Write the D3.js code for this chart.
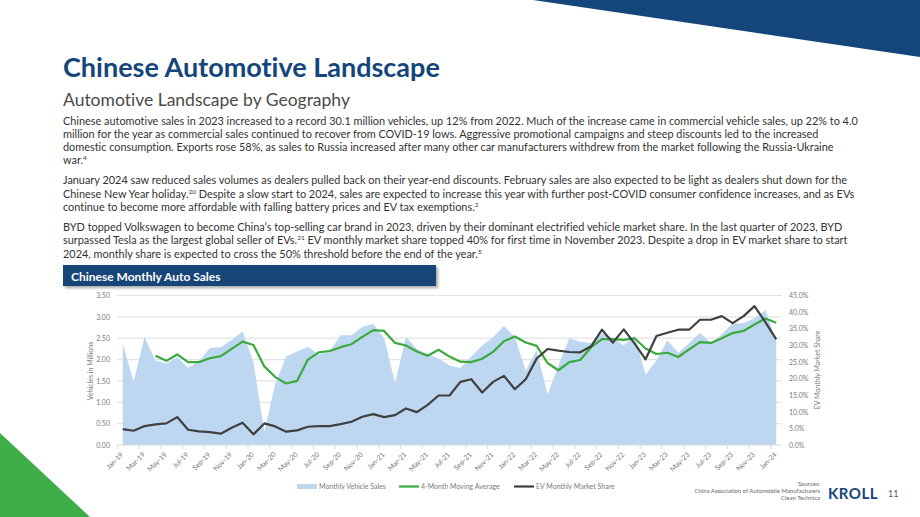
<!DOCTYPE html>
<html>
<head>
<script src="https://cdn.jsdelivr.net/npm/d3@7"></script>
<meta charset="utf-8">
<style>
body {
  margin: 0;
  font-family: Lato, "Noto Sans", sans-serif;
}
svg {
  display: block;
  background: white;
  font-variant-ligatures: none;
}
</style>
</head>
<body>
<div class="chart"></div>

<script>

// monthly sales in millions, Jan-19 .. Jan-24
var sales = [2.37, 1.48, 2.52, 1.98, 1.91, 2.06, 1.81, 1.96, 2.27, 2.29, 2.46, 2.66,
  1.94, 0.31, 1.43, 2.07, 2.19, 2.30, 2.11, 2.19, 2.57, 2.57, 2.77, 2.83,
  2.50, 1.46, 2.53, 2.25, 2.13, 2.02, 1.86, 1.80, 2.07, 2.33, 2.52, 2.79,
  2.53, 1.74, 2.23, 1.18, 1.86, 2.50, 2.42, 2.39, 2.61, 2.51, 2.33, 2.56,
  1.65, 1.98, 2.45, 2.16, 2.38, 2.63, 2.39, 2.59, 2.85, 2.85, 2.97, 3.16,
  2.44];

// 4-month moving average (starts Apr-19)
var movingAvg = [null, null, null, 2.09, 1.97, 2.12, 1.94, 1.94, 2.03, 2.08, 2.25, 2.42,
  2.34, 1.84, 1.59, 1.44, 1.50, 2.00, 2.17, 2.20, 2.29, 2.36, 2.53, 2.69,
  2.67, 2.39, 2.33, 2.19, 2.09, 2.23, 2.07, 1.95, 1.94, 2.02, 2.18, 2.43,
  2.54, 2.40, 2.32, 1.92, 1.75, 1.94, 1.99, 2.29, 2.48, 2.48, 2.46, 2.50,
  2.26, 2.13, 2.16, 2.06, 2.24, 2.41, 2.39, 2.50, 2.62, 2.67, 2.82, 2.96,
  2.86];

// EV monthly market share (%)
var evShare = [4.8, 4.3, 5.7, 6.2, 6.5, 8.4, 4.6, 4.1, 3.9, 3.4, 5.2, 6.7,
  3.2, 6.5, 5.6, 4.0, 4.4, 5.5, 5.7, 5.7, 6.3, 7.0, 8.5, 9.3,
  8.4, 9.0, 11.0, 9.9, 12.1, 14.9, 14.9, 19.0, 19.8, 15.8, 19.0, 20.8,
  16.8, 19.8, 26.0, 28.9, 28.4, 28.0, 27.9, 29.7, 34.7, 30.8, 34.8, 30.5,
  25.8, 32.8, 33.8, 34.7, 34.7, 37.7, 37.7, 38.8, 36.7, 38.8, 41.8, 37.0,
  31.8];

var months = d3.timeMonth.range(new Date(2019, 0, 1), new Date(2024, 1, 1))
  .map(d3.timeFormat("%b-%y"));

var leftTicks = [0, 0.5, 1, 1.5, 2, 2.5, 3, 3.5];
var rightTicks = [0, 5, 10, 15, 20, 25, 30, 35, 40, 45];

var seriesNames = ["Monthly Vehicle Sales", "4-Month Moving Average", "EV Monthly Market Share"];

var paragraphs = [
  ["Chinese automotive sales in 2023 increased to a record 30.1 million vehicles, up 12% from 2022. Much of the increase came in commercial vehicle sales, up 22% to 4.0",
   "million for the year as commercial sales continued to recover from COVID-19 lows. Aggressive promotional campaigns and steep discounts led to the increased",
   "domestic consumption. Exports rose 58%, as sales to Russia increased after many other car manufacturers withdrew from the market following the Russia-Ukraine",
   "war.^4"],
  ["January 2024 saw reduced sales volumes as dealers pulled back on their year-end discounts. February sales are also expected to be light as dealers shut down for the",
   "Chinese New Year holiday.^20 Despite a slow start to 2024, sales are expected to increase this year with further post-COVID consumer confidence increases, and as EVs",
   "continue to become more affordable with falling battery prices and EV tax exemptions.^2"],
  ["BYD topped Volkswagen to become China\u2019s top-selling car brand in 2023, driven by their dominant electrified vehicle market share. In the last quarter of 2023, BYD",
   "surpassed Tesla as the largest global seller of EVs.^21 EV monthly market share topped 40% for first time in November 2023. Despite a drop in EV market share to start",
   "2024, monthly share is expected to cross the 50% threshold before the end of the year.^5"]
];

var sources = ["Sources:", "China Association of Automobile Manufacturers", "Clean Technica"];

var navy = "#14467c",
    areaColor = "#bdd7f1",
    green = "#3aaa3c",
    dark = "#404040",
    grey = "#7a7a7a";

var width = 920,
    height = 517;

var svg = d3.select(".chart")
  .append("svg")
  .attr("width", width)
  .attr("height", height);

// decorative corners
svg.append("path")
  .attr("d", "M533,0 L920,0 L920,57 Z")
  .attr("fill", navy);
svg.append("path")
  .attr("d", "M0,433 L0,517 L90,517 Z")
  .attr("fill", "#3fae49");

// titles
svg.append("text")
  .attr("x", 63).attr("y", 77)
  .attr("fill", navy)
  .style("font-size", "27px")
  .style("font-weight", "bold")
  .text("Chinese Automotive Landscape");

svg.append("text")
  .attr("x", 63).attr("y", 106)
  .attr("fill", "#4a4a4a")
  .style("font-size", "17.5px")
  .text("Automotive Landscape by Geography");

// body text, ^n marks a footnote number
var lineY = 124.5;
paragraphs.forEach(function(p) {
  p.forEach(function(line) {
    var t = svg.append("text")
      .attr("x", 63).attr("y", lineY)
      .attr("fill", "#333")
      .style("font-size", "10.9px");
    var parts = line.split(/\^(\d+)/);
    var shift = 0;
    parts.forEach(function(s, i) {
      if (i % 2 == 0) {
        if (s == "") return;
        t.append("tspan").attr("dy", -shift).text(s);
        shift = 0;
      } else {
        t.append("tspan")
          .attr("dy", -4)
          .style("font-size", "6.5px")
          .text(s);
        shift = -4;
      }
    });
    lineY += 13.3;
  });
  lineY += 6.7;
});

// chart header bar
var defs = svg.append("defs");
var f = defs.append("filter").attr("id", "shadow")
  .attr("x", "-5%").attr("y", "-30%").attr("width", "115%").attr("height", "180%");
f.append("feDropShadow")
  .attr("dx", 2).attr("dy", 2).attr("stdDeviation", 1.5)
  .attr("flood-color", "#000").attr("flood-opacity", 0.35);

svg.append("rect")
  .attr("x", 63).attr("y", 265)
  .attr("width", 373).attr("height", 21)
  .attr("fill", "#164577")
  .attr("filter", "url(#shadow)");
svg.append("text")
  .attr("x", 71).attr("y", 280.5)
  .attr("fill", "white")
  .style("font-size", "12px")
  .style("font-weight", "bold")
  .text("Chinese Monthly Auto Sales");

// scales
var x = d3.scaleBand()
  .domain(months)
  .range([117.3, 781.7]);
var cx = function(i) { return x(months[i]) + x.bandwidth() / 2; };

var yL = d3.scaleLinear().domain([0, 3.5]).range([445, 295.5]);
var yR = d3.scaleLinear().domain([0, 45]).range([445, 295.5]);

// gridlines
svg.append("g").selectAll("line")
  .data(leftTicks.slice(1))
  .enter().append("line")
  .attr("x1", 117.3).attr("x2", 781.7)
  .attr("y1", function(d) { return yL(d); })
  .attr("y2", function(d) { return yL(d); })
  .attr("stroke", "#e3e3e3")
  .attr("stroke-width", 1.2);

// area
var area = d3.area()
  .x(function(d, i) { return cx(i); })
  .y0(yL(0))
  .y1(function(d) { return yL(d); });

svg.append("path")
  .datum(sales)
  .attr("d", area)
  .attr("fill", areaColor);

// baseline + ticks
svg.append("line")
  .attr("x1", 117.3).attr("x2", 781.7)
  .attr("y1", 445).attr("y2", 445)
  .attr("stroke", "#d9d9d9")
  .attr("stroke-width", 1.2);

var evenMonths = months.filter(function(d, i) { return i % 2 == 0; });

svg.append("g").selectAll("line")
  .data(evenMonths)
  .enter().append("line")
  .attr("x1", function(d) { return x(d); })
  .attr("x2", function(d) { return x(d); })
  .attr("y1", 445).attr("y2", 449)
  .attr("stroke", "#d9d9d9");

// lines
var avgLine = d3.line()
  .defined(function(d) { return d != null; })
  .x(function(d, i) { return cx(i); })
  .y(function(d) { return yL(d); });

svg.append("path")
  .datum(movingAvg)
  .attr("d", avgLine)
  .attr("fill", "none")
  .attr("stroke", green)
  .attr("stroke-width", 2.2)
  .attr("stroke-linejoin", "round");

var evLine = d3.line()
  .x(function(d, i) { return cx(i); })
  .y(function(d) { return yR(d); });

svg.append("path")
  .datum(evShare)
  .attr("d", evLine)
  .attr("fill", "none")
  .attr("stroke", dark)
  .attr("stroke-width", 2.2)
  .attr("stroke-linejoin", "round");

// axes
var xAxis = d3.axisBottom(x)
  .tickValues(evenMonths)
  .tickSize(0)
  .tickPadding(0);

var gx = svg.append("g")
  .attr("transform", "translate(0,445)")
  .call(xAxis);
gx.select(".domain").remove();
gx.selectAll("text")
  .attr("y", 0)
  .attr("dy", 0)
  .attr("transform", "translate(1,10) rotate(-45)")
  .style("text-anchor", "end")
  .style("font-family", "Lato, sans-serif")
  .style("font-size", "7px")
  .attr("fill", grey);

var gl = svg.append("g")
  .attr("transform", "translate(110,0)")
  .call(d3.axisLeft(yL).tickValues(leftTicks).tickSize(0).tickPadding(0)
    .tickFormat(d3.format(".2f")));
gl.select(".domain").remove();
gl.selectAll("text")
  .style("font-family", "Lato, sans-serif")
  .style("font-size", "7px")
  .attr("fill", grey);

var gr = svg.append("g")
  .attr("transform", "translate(789,0)")
  .call(d3.axisRight(yR).tickValues(rightTicks).tickSize(0).tickPadding(0)
    .tickFormat(function(d) { return d.toFixed(1) + "%"; }));
gr.select(".domain").remove();
gr.selectAll("text")
  .style("font-family", "Lato, sans-serif")
  .style("font-size", "7px")
  .attr("fill", grey);

svg.append("text")
  .attr("transform", "translate(93,371) rotate(-90)")
  .attr("text-anchor", "middle")
  .attr("fill", grey)
  .style("font-size", "7px")
  .text("Vehicles in Millions");

svg.append("text")
  .attr("transform", "translate(820,370) rotate(-90)")
  .attr("text-anchor", "middle")
  .attr("fill", grey)
  .style("font-size", "7px")
  .text("EV Monthly Market Share");

// legend
var legend = svg.append("g").attr("transform", "translate(0,486.5)");
legend.append("rect")
  .attr("x", 297).attr("y", -2.5).attr("width", 20).attr("height", 5)
  .attr("fill", areaColor);
legend.append("line")
  .attr("x1", 399).attr("x2", 419).attr("y1", 0).attr("y2", 0)
  .attr("stroke", green).attr("stroke-width", 2.2);
legend.append("line")
  .attr("x1", 514).attr("x2", 534).attr("y1", 0).attr("y2", 0)
  .attr("stroke", dark).attr("stroke-width", 2.2);
legend.selectAll("text")
  .data(seriesNames)
  .enter().append("text")
  .attr("x", function(d, i) { return [319, 421, 536][i]; })
  .attr("y", 2.5)
  .attr("fill", grey)
  .style("font-size", "7px")
  .text(function(d) { return d; });

// footer
svg.selectAll(".src")
  .data(sources)
  .enter().append("text")
  .attr("class", "src")
  .attr("x", 820)
  .attr("y", function(d, i) { return 486 + i * 7; })
  .attr("text-anchor", "end")
  .attr("fill", "#666")
  .style("font-size", "6px")
  .text(function(d) { return d; });

svg.append("text")
  .attr("x", 828).attr("y", 499)
  .attr("fill", navy)
  .style("font-size", "15px")
  .style("font-weight", "bold")
  .style("letter-spacing", "0.5px")
  .text("KROLL");

svg.append("text")
  .attr("x", 888).attr("y", 497)
  .attr("fill", "#555")
  .style("font-size", "9px")
  .text("11");

</script>
</body>
</html>
